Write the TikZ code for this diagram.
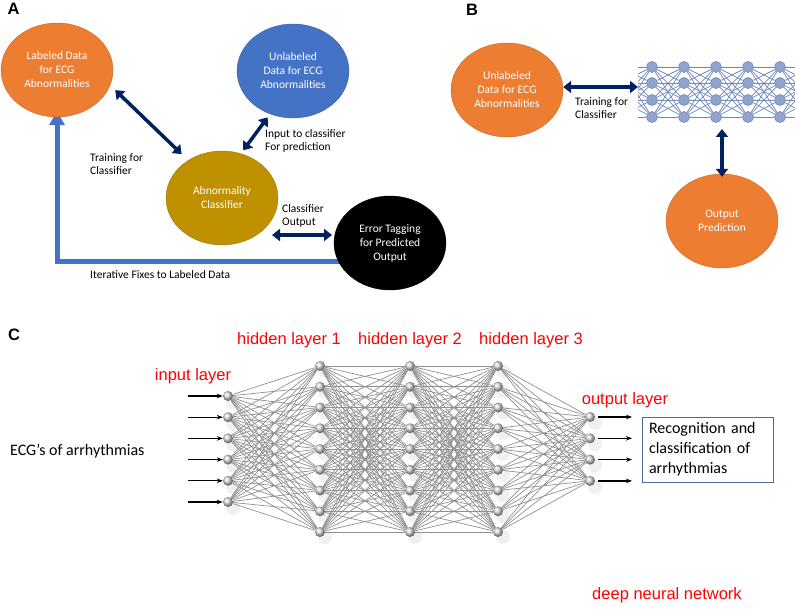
\documentclass[tikz,border=0pt]{standalone}
\usepackage{fontspec}
\setmainfont{Carlito}
\newfontfamily\arialfont{Liberation Sans}
\usetikzlibrary{shapes.geometric, arrows.meta, backgrounds, positioning, calc}
\definecolor{corange}{HTML}{ED7D31}
\definecolor{cblue}{HTML}{4472C4}
\definecolor{cgold}{HTML}{BF9000}
\definecolor{cnavy}{HTML}{002060}
\definecolor{cred}{HTML}{FF0000}
\definecolor{cbox}{HTML}{4F6A96}
\definecolor{nnfill}{HTML}{8FA3CE}
\definecolor{nnedge}{HTML}{6F88BC}
\tikzset{
  % ellisse con testo (pannelli A e B)
  blob/.style={ellipse, minimum width=112pt, minimum height=94pt, inner sep=0pt,
    align=center, text=white, font=\fontsize{11.5}{14}\selectfont},
  blob orange/.style={blob, fill=corange, draw=corange!85!black},
  blob blue/.style={blob, fill=cblue, draw=cblue!85!black},
  blob gold/.style={blob, fill=cgold, draw=cgold!85!black},
  blob black/.style={blob, fill=black, draw=black},
  % frecce doppie blu scuro
  duplex/.style={{Triangle[length=8pt,width=12pt]}-{Triangle[length=8pt,width=12pt]},
    line width=3.5pt, cnavy},
  fixarrow/.style={-{Triangle[length=14pt,width=15pt]}, line width=5pt, cblue},
  % etichette
  lbl/.style={font=\fontsize{11.5}{13.5}\selectfont, align=left, anchor=west, inner sep=0pt},
  panel/.style={font=\arialfont\bfseries\fontsize{16.5}{18}\selectfont, inner sep=0pt},
  redlbl/.style={font=\arialfont\fontsize{16.5}{18}\selectfont, text=cred, inner sep=0pt},
  % rete del pannello C
  neuron/.style={circle, minimum size=10pt, inner sep=0pt, shading=ball, ball color=gray!30},
  nshadow/.style={fill=gray!12},
  wire/.style={draw=gray!55!black!60, line width=0.7pt},
  inarrow/.style={-{Stealth[length=6pt,width=4.5pt]}, line width=1.3pt},
  % icona della rete nel pannello B
  bnode/.style={circle, minimum size=11pt, inner sep=0pt, fill=nnfill, draw=nnedge, line width=0.6pt},
  bwire/.style={draw=nnedge, line width=0.7pt},
}

\begin{document}
\begin{tikzpicture}[x=1pt, y=-1pt]
  \useasboundingbox (0,0) rectangle (795,609);

  % pannello A
  \node[panel] (pa) at (13.5,9) {A};
  \node[blob orange] (labeled) at (57,70) {Labeled Data\\for ECG\\Abnormalities};
  \node[blob blue] (unlab) at (293,71) {Unlabeled\\Data for ECG\\Abnormalities};
  \node[blob gold] (classif) at (222,198) {Abnormality\\Classifier};
  \node[blob black] (errtag) at (390,243) {Error Tagging\\for Predicted\\Output};
  \draw[duplex, shorten <=7pt, shorten >=9pt] (labeled.-16) -- (classif.132);
  \draw[duplex, shorten <=4pt, shorten >=4pt] (unlab.-118) -- (classif.67);
  \draw[duplex] ([xshift=50pt,yshift=-37pt]classif.center) -- ([xshift=-58pt,yshift=8pt]errtag.center);
  \begin{scope}[on background layer]
    \draw[fixarrow, shorten >=-6pt] ([yshift=-19pt]errtag.center) -| (labeled.south);
  \end{scope}
  \node[lbl] (ltrain) at (90,164) {Training for\\Classifier};
  \node[lbl] (linput) at (265,141) {Input to classifier\\For prediction};
  \node[lbl] (lout) at (282,216) {Classifier\\Output};
  \node[lbl] (lfix) at (90,275) {Iterative Fixes to Labeled Data};

  % pannello B
  \node[panel] (pb) at (472,9.5) {B};
  \node[blob orange] (bunlab) at (507,90) {Unlabeled\\Data for ECG\\Abnormalities};
  \node[blob orange] (outpred) at (722,221) {Output\\Prediction};
  \foreach \c/\xx in {1/652,2/684,3/716,4/748,5/780}
    \foreach \r/\yy in {1/67,2/83,3/100,4/117}
      \node[bnode] (b\c\r) at (\xx,\yy) {};
  \foreach \r/\yy in {1/67,2/83,3/100,4/117} {
    \coordinate (b0\r) at (620,\yy);
    \coordinate (b6\r) at (812,\yy);
  }
  \begin{scope}[on background layer]
    \begin{scope}
      \clip (638,55) rectangle (795,128);
      \foreach \c [evaluate=\c as \n using int(\c+1)] in {0,...,5}
        \foreach \r in {1,...,4}
          \foreach \s in {1,...,4}
            \draw[bwire] (b\c\r) -- (b\n\s);
    \end{scope}
  \end{scope}
  \coordinate (nnin) at (638,87);
  \coordinate (nnout) at (722,129);
  \draw[duplex] (bunlab.east |- nnin) -- (nnin);
  \draw[duplex, shorten >=-3pt] (nnout) -- (outpred.north);
  \node[lbl] (btrain) at (575,108) {Training for\\Classifier};

  % pannello C
  \node[panel] (pc) at (14,335) {C};
  \foreach \k in {1,...,6} {
    \pgfmathsetmacro\yy{396+(\k-1)*21.2}
    \node[neuron] (i\k) at (228,\yy) {};
    \coordinate (ie\k) at (188,\yy);
    \draw[inarrow] (ie\k) -- (i\k);
  }
  \foreach \nm/\xx in {ha/320, hb/410, hc/498}
    \foreach \k in {1,...,9} {
      \pgfmathsetmacro\yy{366+(\k-1)*20.75}
      \node[neuron] (\nm\k) at (\xx,\yy) {};
    }
  \foreach \k in {1,...,4} {
    \pgfmathsetmacro\yy{417+(\k-1)*21.3}
    \node[neuron] (o\k) at (590,\yy) {};
    \coordinate (oe\k) at (632,\yy);
    \draw[inarrow, shorten <=3pt] (o\k) -- (oe\k);
  }
  \begin{scope}[on background layer]
    % ombre chiare sotto i nodi
    \foreach \n in {i1,i2,i3,i4,i5,i6,o1,o2,o3,o4}
      \fill[nshadow] ([shift={(5pt,-6pt)}]\n.center) circle (7pt);
    \foreach \n in {ha,hb,hc}
      \foreach \k in {1,...,9}
        \fill[nshadow] ([shift={(5pt,-5pt)}]\n\k.center) circle (7pt);
    \foreach \a in {1,...,6}
      \foreach \b in {1,...,9}
        \draw[wire] (i\a) -- (ha\b);
    \foreach \a in {1,...,9}
      \foreach \b in {1,...,9} {
        \draw[wire] (ha\a) -- (hb\b);
        \draw[wire] (hb\a) -- (hc\b);
      }
    \foreach \a in {1,...,9}
      \foreach \b in {1,...,4}
        \draw[wire] (hc\a) -- (o\b);
  \end{scope}
  \node[draw=cbox, line width=0.8pt, minimum width=131pt, minimum height=65pt,
    text width=117pt, inner xsep=7pt, inner ysep=2pt, align=left,
    font=\fontsize{16}{20}\selectfont] (recog) at (707.5,449.5)
    {Recognition and\\classification of\\arrhythmias};
  \node[font=\fontsize{16}{20}\selectfont, anchor=west, inner sep=0pt] (ecg) at (10,451) {ECG’s of arrhythmias};
  \node[redlbl] (linl) at (193,376) {input layer};
  \node[redlbl] (lh1) at (289,340) {hidden layer 1};
  \node[redlbl] (lh2) at (410,340) {hidden layer 2};
  \node[redlbl] (lh3) at (531,340) {hidden layer 3};
  \node[redlbl] (loutl) at (625,400) {output layer};
  \node[redlbl] (ldnn) at (667,595) {deep neural network};
\end{tikzpicture}
\end{document}
